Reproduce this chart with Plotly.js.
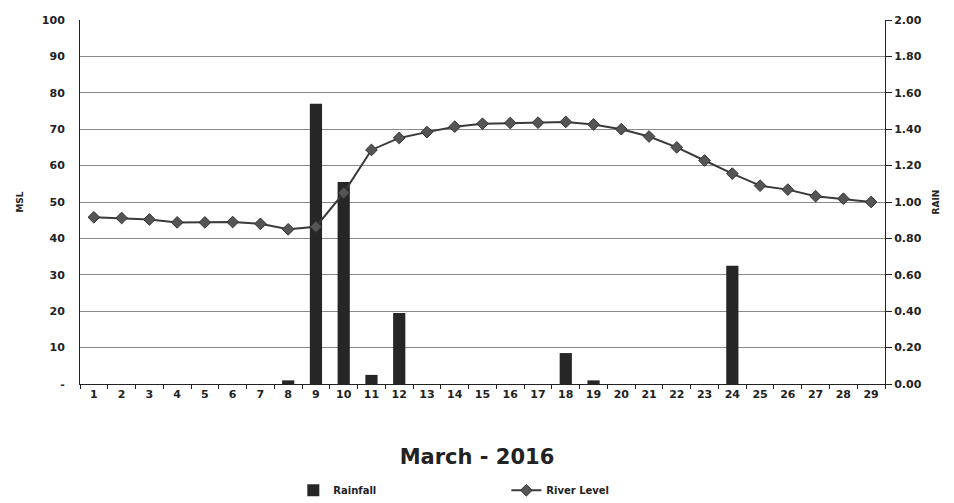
<!DOCTYPE html>
<html>
<head>
<meta charset="utf-8">
<script src="https://cdn.plot.ly/plotly-3.0.1.min.js"></script>
<style>html,body{margin:0;padding:0;background:#fff}#chart{width:954px;height:503px}</style>
</head>
<body>
<div id="chart"></div>
<script>
const days = ["1","2","3","4","5","6","7","8","9","10","11","12","13","14","15","16","17","18","19","20","21","22","23","24","25","26","27","28","29"];
const rainfall = [0,0,0,0,0,0,0,0.02,1.54,1.11,0.05,0.39,0,0,0,0,0,0.17,0.02,0,0,0,0,0.65,0,0,0,0,0];
const riverLevel = [45.8,45.6,45.2,44.4,44.4,44.5,44.0,42.5,43.2,52.5,64.3,67.6,69.2,70.7,71.5,71.7,71.8,72.0,71.3,70.0,68.0,65.0,61.4,57.8,54.5,53.4,51.6,50.9,50.0];
const mslTicks = [0,10,20,30,40,50,60,70,80,90,100];
const mslTickText = ["-","10","20","30","40","50","60","70","80","90","100"];

const fam = "DejaVu Sans, Verdana, sans-serif";
const font = {family: fam, size: 11, color: "#222", weight: "bold"};

const traces = [
  {type: "bar", name: "Rainfall", x: days, y: rainfall, yaxis: "y",
   marker: {color: "#262626"}, width: 0.44},
  {type: "scatter", mode: "lines+markers", name: "River Level", x: days, y: riverLevel, yaxis: "y2",
   line: {color: "#3a3a3a", width: 2}, marker: {symbol: "diamond", size: 9, color: "#555", line: {color: "#333", width: 1}}}
];

const layout = {
  width: 954, height: 503,
  margin: {l: 80, r: 69, t: 20, b: 119, autoexpand: false},
  paper_bgcolor: "#fff", plot_bgcolor: "#fff",
  font: font,
  showlegend: true,
  title: {text: "March - 2016", x: 0.5, xref: "container", y: 0.092, yref: "container", yanchor: "middle",
          font: {family: fam, size: 21, color: "#222", weight: "bold"}},
  legend: {orientation: "h", x: 0.265, xanchor: "left", y: -0.292, yanchor: "middle",
           entrywidth: 168, font: {family: fam, size: 10, weight: "bold", color: "#222"}, bgcolor: "rgba(0,0,0,0)"},
  xaxis: {type: "category", range: [-0.5, 28.5], tickson: "boundaries", ticks: "outside", ticklen: 4,
          tickcolor: "#222", showline: true, linecolor: "#222", linewidth: 1, showgrid: false,
          tickfont: font, fixedrange: true},
  yaxis: {side: "right", range: [0, 2], dtick: 0.2, tickformat: ".2f", showgrid: true, gridcolor: "#8a8a8a",
          gridwidth: 1, showline: true, linecolor: "#222", ticks: "outside", ticklen: 6, tickcolor: "#222",
          zeroline: false, tickfont: font,
          title: {text: "RAIN", font: {family: fam, size: 9, weight: "bold", color: "#222"}, standoff: 12}},
  yaxis2: {side: "left", overlaying: "y", range: [0, 100], tickvals: mslTicks, ticktext: mslTickText,
           showgrid: false, showline: true, linecolor: "#222", ticks: "outside", ticklen: 12, tickcolor: "rgba(0,0,0,0)",
           zeroline: false, tickfont: font,
           title: {text: "MSL", font: {family: fam, size: 9, weight: "bold", color: "#222"}, standoff: 16}},
  bargap: 0.5
};

Plotly.newPlot("chart", traces, layout, {displayModeBar: false, staticPlot: true});
</script>
</body>
</html>
